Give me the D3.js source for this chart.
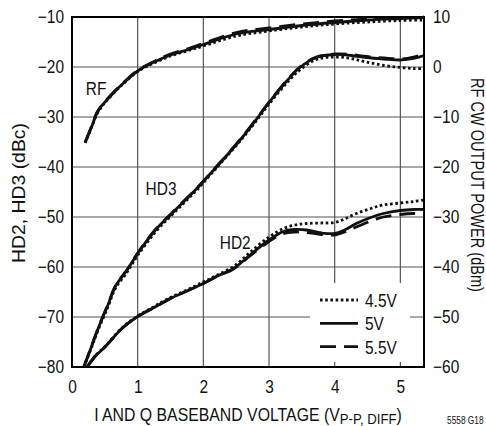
<!DOCTYPE html>
<html>
<head>
<meta charset="utf-8">
<script src="https://cdn.jsdelivr.net/npm/d3@7"></script>
<style>
  html, body { margin: 0; padding: 0; background: #fff; }
  svg { display: block; }
  text { font-family: "Liberation Sans", Arimo, Arial, sans-serif; fill: #111; }
</style>
</head>
<body>
<svg id="chart" width="486" height="426"></svg>
<script>
// ---------- data ----------
const leftTicks = [-80, -70, -60, -50, -40, -30, -20, -10];
const rightTicks = [-60, -50, -40, -30, -20, -10, 0, 10];
const xTicks = [0, 1, 2, 3, 4, 5];
const seriesNames = ["4.5V", "5V", "5.5V"];

// RF CW output power (dBm, right axis)
const rfX   = [0.2, 0.3, 0.38, 0.45, 0.51, 0.6, 0.76, 1.0, 1.25, 1.5, 1.75, 2.0, 2.5, 3.0, 3.5, 4.0, 4.5, 5.0, 5.36];
const rf45  = [-15.2, -12.0, -9.4, -8.0, -7.0, -5.7, -3.6, -0.9, 0.8, 2.2, 3.2, 4.2, 6.2, 7.2, 8.0, 8.6, 9.0, 9.3, 9.4];
const rf50  = [-15.1, -11.9, -9.2, -7.8, -6.9, -5.6, -3.5, -0.8, 1.0, 2.4, 3.4, 4.5, 6.6, 7.5, 8.3, 8.9, 9.4, 9.7, 9.9];
const rf55  = [-15.0, -11.8, -9.1, -7.7, -6.8, -5.5, -3.4, -0.7, 1.1, 2.6, 3.6, 4.7, 6.9, 7.8, 8.6, 9.2, 9.6, 9.8, 10.0];

// HD3 (dBc, left axis)
const hd3X  = [0.18, 0.3, 0.41, 0.55, 0.66, 0.84, 1.0, 1.27, 1.52, 1.75, 1.93, 2.13, 2.2, 2.56, 2.84, 3.0, 3.27, 3.47, 3.72, 4.0, 4.25, 4.48, 4.75, 5.0, 5.2, 5.36];
const hd3_45 = [-80, -76.0, -72.2, -67.9, -64.3, -61.0, -57.7, -53.0, -49.6, -46.6, -44.2, -41.2, -40.2, -34.8, -30.2, -27.4, -23.2, -20.6, -18.5, -18.0, -18.3, -19.0, -19.7, -20.1, -20.3, -20.3];
const hd3_50 = [-80, -75.8, -71.9, -67.5, -63.9, -60.6, -57.3, -52.6, -49.3, -46.3, -43.9, -41.0, -40.0, -34.6, -29.9, -27.1, -22.8, -20.1, -18.1, -17.5, -17.7, -18.1, -18.4, -18.6, -18.3, -17.7];
const hd3_55 = [-80, -75.7, -71.8, -67.4, -63.8, -60.5, -57.2, -52.5, -49.2, -46.2, -43.8, -40.9, -39.9, -34.5, -29.8, -27.0, -22.7, -20.0, -18.0, -17.4, -17.5, -17.9, -18.2, -18.4, -18.0, -17.4];

// HD2 (dBc, left axis)
const hd2X  = [0.23, 0.35, 0.51, 0.76, 1.0, 1.25, 1.5, 1.75, 2.0, 2.2, 2.46, 2.71, 3.0, 3.22, 3.4, 3.57, 3.8, 4.0, 4.15, 4.33, 4.55, 4.74, 5.0, 5.2, 5.36];
const hd2_45 = [-80, -77.8, -75.8, -72.2, -69.8, -67.9, -66.1, -64.6, -63.0, -61.7, -59.9, -57.1, -54.0, -52.3, -51.6, -51.3, -51.2, -51.1, -50.4, -49.3, -48.3, -47.6, -47.2, -46.9, -46.6];
const hd2_50 = [-80, -77.9, -75.9, -72.3, -69.9, -68.1, -66.3, -64.8, -63.3, -61.9, -60.3, -57.6, -54.6, -52.9, -52.5, -52.6, -53.2, -53.3, -52.6, -51.3, -50.1, -49.3, -48.7, -48.5, -48.5];
const hd2_55 = [-80, -77.9, -75.9, -72.3, -69.9, -68.1, -66.3, -64.8, -63.3, -61.9, -60.4, -57.8, -54.9, -53.3, -53.0, -53.1, -53.5, -53.6, -53.0, -52.0, -50.8, -50.0, -49.5, -49.3, -49.3];

const curveLabels = [
  { text: "RF",  x: 0.21, y: -25.6 },
  { text: "HD3", x: 1.12, y: -45.6 },
  { text: "HD2", x: 2.25, y: -56.4 }
];

// ---------- drawing ----------
const svg = d3.select("#chart");
const L = 72, R = 424, T = 17, B = 367;
const SX = 0.86;   // horizontal condensing of the font
const FS = 18;
const x  = d3.scaleLinear().domain([0, 5.36]).range([L, R]);
const yL = d3.scaleLinear().domain([-80, -10]).range([B, T]);
const yR = d3.scaleLinear().domain([-60, 10]).range([B, T]);

const styles = {
  "4.5V": { dash: "2.6,2.6" },
  "5V":   { dash: null },
  "5.5V": { dash: "16,8" }
};

function condense(sel, sx) {
  sel.each(function () {
    const t = d3.select(this);
    const tx = +t.attr("x") || 0, ty = +t.attr("y") || 0;
    const prev = t.attr("transform") || "";
    t.attr("x", 0).attr("y", 0).attr("transform", `${prev} translate(${tx},${ty}) scale(${sx},1)`);
  });
}
function fitWidth(sel, w) {
  const bw = sel.node().getBBox().width;
  condense(sel, w / bw);
}

// grid
const grid = svg.append("g").attr("stroke", "#555").attr("stroke-width", 1.2);
grid.selectAll("line.v").data(xTicks.filter(d => d > 0)).join("line")
  .attr("x1", d => x(d)).attr("x2", d => x(d)).attr("y1", T).attr("y2", B);
grid.selectAll("line.h").data(leftTicks.filter(d => d > -80 && d < -10)).join("line")
  .attr("x1", L).attr("x2", R).attr("y1", d => yL(d)).attr("y2", d => yL(d));

// legend background (covers grid)
svg.append("rect").attr("x", 310).attr("y", 283).attr("width", 100).attr("height", 79).attr("fill", "#fff");

// curves
const lineGen = (ys, scale, xs) => d3.line().curve(d3.curveCatmullRom.alpha(0.5))
  .x((d, i) => x(xs[i])).y(d => scale(d))(ys);

const curves = [
  { xs: rfX, ys: rf45, s: yR, n: "4.5V" }, { xs: rfX, ys: rf55, s: yR, n: "5.5V" }, { xs: rfX, ys: rf50, s: yR, n: "5V" },
  { xs: hd3X, ys: hd3_45, s: yL, n: "4.5V" }, { xs: hd3X, ys: hd3_55, s: yL, n: "5.5V" }, { xs: hd3X, ys: hd3_50, s: yL, n: "5V" },
  { xs: hd2X, ys: hd2_45, s: yL, n: "4.5V" }, { xs: hd2X, ys: hd2_55, s: yL, n: "5.5V" }, { xs: hd2X, ys: hd2_50, s: yL, n: "5V" }
];
svg.append("g").selectAll("path").data(curves).join("path")
  .attr("d", c => lineGen(c.ys, c.s, c.xs))
  .attr("fill", "none").attr("stroke", "#111").attr("stroke-width", 2.8)
  .attr("stroke-dasharray", c => styles[c.n].dash)
  .attr("stroke-linejoin", "round");

// frame
svg.append("rect").attr("x", L).attr("y", T).attr("width", R - L).attr("height", B - T)
  .attr("fill", "none").attr("stroke", "#000").attr("stroke-width", 2);

// axes
const axL = svg.append("g").attr("transform", `translate(${L},0)`)
  .call(d3.axisLeft(yL).tickValues(leftTicks).tickSize(0).tickPadding(8));
const axR = svg.append("g").attr("transform", `translate(${R},0)`)
  .call(d3.axisRight(yR).tickValues(rightTicks).tickSize(0).tickPadding(9));
const axB = svg.append("g").attr("transform", `translate(0,${B})`)
  .call(d3.axisBottom(x).tickValues(xTicks).tickSize(0).tickPadding(13).tickFormat(d3.format("d")));
[axL, axR, axB].forEach(a => {
  a.select(".domain").remove();
  const t = a.selectAll("text").attr("font-size", FS).attr("fill", "#111")
    .style("font-family", '"Liberation Sans", Arimo, Arial, sans-serif');
  condense(t, SX);
});

// axis titles
const lt = svg.append("text").attr("transform", "translate(25,193) rotate(-90)")
  .attr("text-anchor", "middle").attr("font-size", FS).text("HD2, HD3 (dBc)");
fitWidth(lt, 140);
const rt = svg.append("text").attr("transform", "translate(471,185) rotate(90)")
  .attr("text-anchor", "middle").attr("font-size", FS).text("RF CW OUTPUT POWER (dBm)");
fitWidth(rt, 214);
const xt = svg.append("text").attr("x", 248).attr("y", 421).attr("text-anchor", "middle").attr("font-size", FS);
xt.append("tspan").text("I AND Q BASEBAND VOLTAGE (V");
xt.append("tspan").attr("font-size", 15).attr("dy", 3).text("P-P, DIFF");
xt.append("tspan").attr("dy", -3).text(")");
fitWidth(xt, 308);

const note = svg.append("text").attr("x", 447).attr("y", 424).attr("font-size", 10).text("5558 G18");
fitWidth(note, 37);

// curve labels
const cl = svg.append("g").selectAll("text").data(curveLabels).join("text")
  .attr("x", d => x(d.x)).attr("y", d => yL(d.y)).attr("font-size", FS).text(d => d.text);
condense(cl, SX);

// legend
const leg = svg.append("g").selectAll("g").data(seriesNames).join("g")
  .attr("transform", (d, i) => `translate(0,${300 + i * 23.3})`);
leg.append("line").attr("x1", 320).attr("x2", 358).attr("y1", 0).attr("y2", 0)
  .attr("stroke", "#111").attr("stroke-width", 2.8).attr("stroke-dasharray", d => styles[d].dash);
const lgt = leg.append("text").attr("x", 365).attr("y", 7).attr("font-size", FS).text(d => d);
condense(lgt, SX);
</script>
</body>
</html>
